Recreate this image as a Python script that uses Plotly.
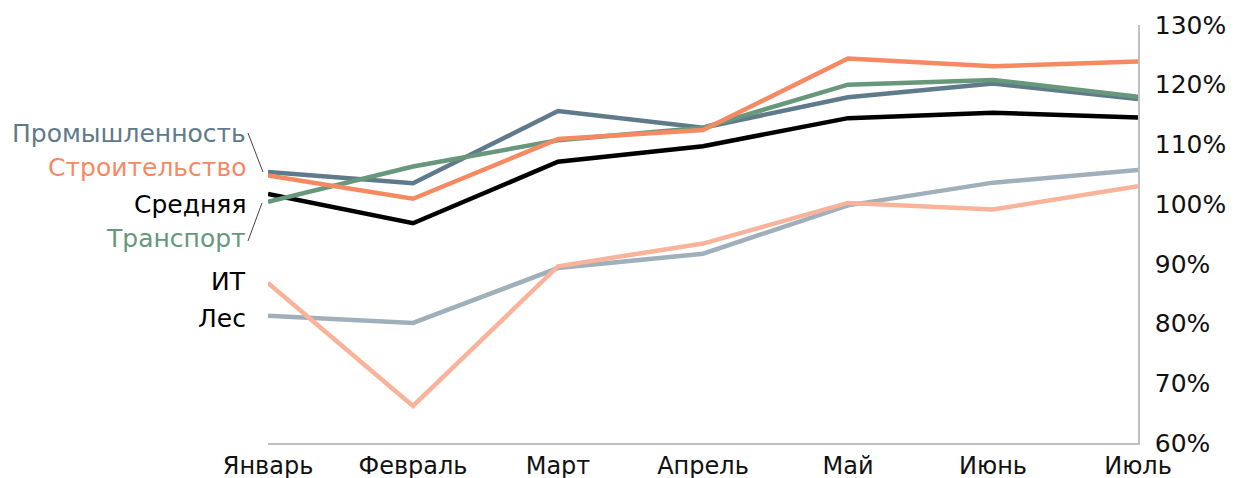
import plotly.graph_objects as go

months = ["Январь", "Февраль", "Март", "Апрель", "Май", "Июнь", "Июль"]

les = [81.3, 80.1, 89.3, 91.7, 99.8, 103.6, 105.7]
it_ = [86.8, 66.2, 89.6, 93.4, 100.2, 99.1, 103.0]
srednyaya = [101.7, 96.8, 107.1, 109.7, 114.4, 115.3, 114.5]
prom = [105.4, 103.5, 115.6, 112.8, 117.9, 120.2, 117.6]
transport = [100.4, 106.3, 110.7, 112.8, 120.0, 120.8, 118.0]
stroy = [104.8, 100.9, 110.9, 112.4, 124.4, 123.1, 123.9]

series = [
    ("Лес", les, "#A0B0BB"),
    ("ИТ", it_, "#F9B39B"),
    ("Средняя", srednyaya, "#000000"),
    ("Промышленность", prom, "#5F7A8B"),
    ("Транспорт", transport, "#67987C"),
    ("Строительство", stroy, "#F58A62"),
]

# label text, colour, label y (data units)
labels = [
    ("Промышленность", "#5F7A8B", 111.9),
    ("Строительство", "#F58A62", 106.1),
    ("Средняя", "#000000", 100.0),
    ("Транспорт", "#67987C", 94.2),
    ("ИТ", "#000000", 87.1),
    ("Лес", "#000000", 80.9),
]

FONT = "DejaVu Sans"
xs = list(range(len(months)))

fig = go.Figure()
for name, vals, color in series:
    fig.add_trace(go.Scatter(x=xs, y=vals, mode="lines", name=name,
                             line=dict(color=color, width=4.5), showlegend=False,
                             cliponaxis=False))

for text, color, yv in labels:
    fig.add_annotation(x=-0.023, xref="paper", y=yv, yref="y", text=text,
                       showarrow=False, xanchor="right", yanchor="middle",
                       font=dict(family=FONT, size=25, color=color))

# leader lines
fig.add_shape(type="line", xref="paper", yref="paper",
              x0=-0.0230, y0=0.7416, x1=-0.0058, y1=0.6483,
              line=dict(color="#444444", width=1))
fig.add_shape(type="line", xref="paper", yref="paper",
              x0=-0.0230, y0=0.4833, x1=-0.0069, y1=0.5742,
              line=dict(color="#444444", width=1))

fig.update_layout(
    width=1230, height=470,
    margin=dict(l=260, r=100, t=17, b=35),
    paper_bgcolor="white", plot_bgcolor="white",
    font=dict(family=FONT, size=24, color="#111111"),
    xaxis=dict(range=[0, 6], tickvals=xs, ticktext=months, showgrid=False,
               zeroline=False, showline=True, linecolor="#BFBFBF", linewidth=1.5,
               ticks="", automargin=False, tickfont=dict(size=24, color="#111111")),
    yaxis=dict(range=[60, 130], side="right", dtick=10, ticksuffix="%",
               showgrid=False, zeroline=False, showline=True, automargin=False,
               linecolor="#BFBFBF", linewidth=1.5, ticks="", ticklabelstandoff=10,
               tickfont=dict(size=25, color="#111111")),
)

fig.write_html("out.html")
